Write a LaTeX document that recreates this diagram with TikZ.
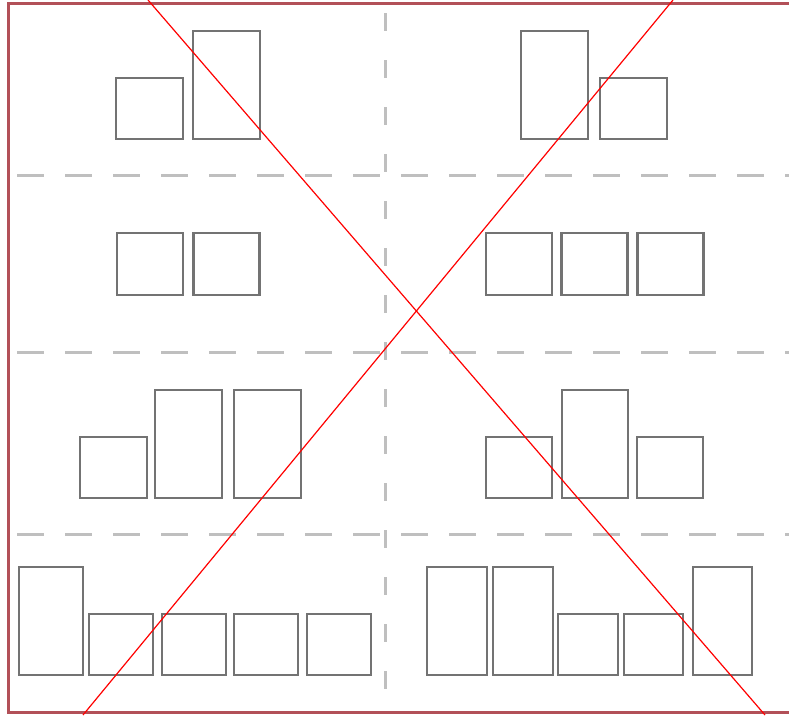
\documentclass[tikz,border=0pt]{standalone}
\begin{document}
\begin{tikzpicture}[x=1pt,y=-1pt,
  bx/.style={draw=black!55, line width=2.4pt, inner sep=0pt, outer sep=0pt, minimum width=#1},
  bx/.default=67pt,
  lo/.style={minimum height=61pt},
  hi/.style={minimum height=108pt},
  hdash/.style={draw=black!25, line width=3pt, dash pattern=on 27pt off 21pt},
  vdash/.style={draw=black!25, line width=3pt, dash pattern=on 18pt off 29pt},
  frame/.style={draw={rgb,255:red,178;green,80;blue,88}, line width=3pt},
  cross/.style={draw=red, line width=1.2pt}]
\useasboundingbox (0,0) rectangle (789,715);
\fill[white] (0,0) rectangle (789,715);
% dashed grid
\coordinate (h1a) at (17,175); \coordinate (h1b) at (789,175);
\coordinate (h2a) at (17,352); \coordinate (h2b) at (789,352);
\coordinate (h3a) at (17,534); \coordinate (h3b) at (789,534);
\coordinate (va) at (385,13); \coordinate (vb) at (385,700);
\draw[hdash] (h1a) -- (h1b);
\draw[hdash] (h2a) -- (h2b);
\draw[hdash] (h3a) -- (h3b);
\draw[vdash] (va) -- (vb);
% row 1
\node[bx,lo] (r1a) at (149.5,108.5) {};
\node[bx,hi] (r1b) at (226.5,85) {};
\node[bx,hi] (r1c) at (554.5,85) {};
\node[bx,lo] (r1d) at (633.5,108.5) {};
% row 2
\node[bx=66pt,minimum height=62pt] (r2a) at (150,264) {};
\node[bx=66pt,minimum height=62pt] (r2b) at (226.5,264) {};
\node[bx=66pt,minimum height=62pt] (r2c) at (519,264) {};
\node[bx=66pt,minimum height=62pt] (r2d) at (594.5,264) {};
\node[bx=66pt,minimum height=62pt] (r2e) at (670.5,264) {};
% row 3
\node[bx,lo] (r3a) at (113.5,467.5) {};
\node[bx,hi] (r3b) at (188.5,444) {};
\node[bx,hi] (r3c) at (267.5,444) {};
\node[bx=66pt,lo] (r3d) at (519,467.5) {};
\node[bx=66pt,hi] (r3e) at (595,444) {};
\node[bx=66pt,lo] (r3f) at (670,467.5) {};
% row 4
\node[bx=64pt,hi] (r4a) at (51,621) {};
\node[bx=64pt,lo] (r4b) at (121,644.5) {};
\node[bx=64pt,lo] (r4c) at (194,644.5) {};
\node[bx=64pt,lo] (r4d) at (266,644.5) {};
\node[bx=64pt,lo] (r4e) at (339,644.5) {};
\node[bx=60pt,hi] (r4f) at (457,621) {};
\node[bx=60pt,hi] (r4g) at (523,621) {};
\node[bx=60pt,lo] (r4h) at (588,644.5) {};
\node[bx=59pt,lo] (r4i) at (653.5,644.5) {};
\node[bx=59pt,hi] (r4j) at (722.5,621) {};
% red frame (top, left, bottom)
\coordinate (ftr) at (789,3); \coordinate (ftl) at (8.5,3);
\coordinate (fbl) at (8.5,712); \coordinate (fbr) at (789,712);
\draw[frame] (ftr) -- (ftl) -- (fbl) -- (fbr);
% red cross
\coordinate (xa) at (148,0); \coordinate (xb) at (765,715);
\coordinate (xc) at (673,0); \coordinate (xd) at (83,715);
\draw[cross] (xa) -- (xb);
\draw[cross] (xc) -- (xd);
\end{tikzpicture}
\end{document}
